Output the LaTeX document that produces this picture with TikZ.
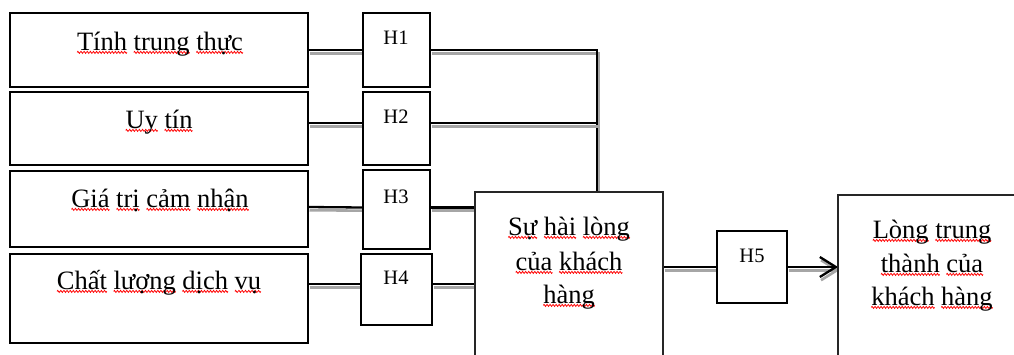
\documentclass[tikz,border=0pt]{standalone}
\usepackage{fontspec}
\setmainfont{Liberation Serif}
\usetikzlibrary{arrows.meta,backgrounds}
% one period of a red wavy underline, repeated under a word
\newsavebox\wavebox
\newsavebox\wordbox
\sbox\wavebox{\pgfpicture
  \pgfpathrectangle{\pgfpoint{0pt}{-1pt}}{\pgfpoint{3pt}{2pt}}%
  \pgfusepath{use as bounding box}%
  \pgfsetlinewidth{0.8pt}%
  \pgfsetstrokecolor{red}%
  \pgfpathmoveto{\pgfpoint{0pt}{0pt}}%
  \pgfpathsine{\pgfpoint{0.75pt}{1pt}}%
  \pgfpathcosine{\pgfpoint{0.75pt}{-1pt}}%
  \pgfpathsine{\pgfpoint{0.75pt}{-1pt}}%
  \pgfpathcosine{\pgfpoint{0.75pt}{1pt}}%
  \pgfusepath{stroke}%
\endpgfpicture}
\newcommand\spell[1]{\sbox\wordbox{#1}\rlap{\lower3.4pt\hbox to\wd\wordbox{\xleaders\copy\wavebox\hfill}}\usebox\wordbox}
\begin{document}
\begin{tikzpicture}[x=1pt,y=-1pt,
  box/.style={draw=black, line width=2.7pt, fill=white, inner sep=0pt, outer sep=0pt},
  bigbox/.style={box, line width=2.2pt, draw=black!85},
  txt/.style={inner sep=0pt, outer sep=0pt, anchor=base, font=\fontsize{26.5}{32}\selectfont},
  htxt/.style={inner sep=0pt, outer sep=0pt, anchor=base, font=\fontsize{20.5}{24}\selectfont},
  conn/.style={line width=2.3pt,
    preaction={draw=black!35, line width=2.6pt, transform canvas={shift={(1.5,3.2)}}}},
  tip/.style={-{Straight Barb[length=16pt,width=20pt]}}
]
\useasboundingbox (0,0) rectangle (1014,354);
\clip (0,0) rectangle (1014,354);

% factor boxes
\node[box, minimum width=298, minimum height=74] (f1) at (159,50) {};
\node[box, minimum width=298, minimum height=73] (f2) at (159,128.5) {};
\node[box, minimum width=298, minimum height=76] (f3) at (159,209) {};
\node[box, minimum width=298, minimum height=89] (f4) at (159,298.5) {};

% hypothesis boxes
\node[box, minimum width=67, minimum height=74] (h1) at (396.5,50) {};
\node[box, minimum width=67, minimum height=73] (h2) at (396.5,128.5) {};
\node[box, minimum width=67, minimum height=79] (h3) at (396.5,209.5) {};
\node[box, minimum width=71, minimum height=71] (h4) at (396.5,289.5) {};
\node[box, minimum width=70, minimum height=72] (h5) at (752,267) {};

% outcome boxes
\node[bigbox, minimum width=188, minimum height=188] (s) at (569,286) {};
\node[bigbox, minimum width=188, minimum height=185] (l) at (932,287.5) {};

% texts
\node[txt] (t1) at (160,50) {\spell{Tính} \spell{trung} \spell{thực}};
\node[txt] (t2) at (159,128) {\spell{Uy} \spell{tín}};
\node[txt] (t3) at (160,207) {\spell{Giá} \spell{trị} \spell{cảm} \spell{nhận}};
\node[txt] (t4) at (159,289) {\spell{Chất} \spell{lượng} \spell{dịch} \spell{vụ}};

\node[htxt] (a1) at (396,44) {H1};
\node[htxt] (a2) at (396,123) {H2};
\node[htxt] (a3) at (396,203) {H3};
\node[htxt] (a4) at (396,284) {H4};
\node[htxt] (a5) at (752,262) {H5};

\node[txt] (s1) at (569,235) {\spell{Sự} \spell{hài} \spell{lòng}};
\node[txt] (s2) at (569,270) {\spell{của} \spell{khách}};
\node[txt] (s3) at (569,303) {\spell{hàng}};

\node[txt] (l1) at (932,238) {\spell{Lòng} \spell{trung}};
\node[txt] (l2) at (932,272) {\spell{thành} \spell{của}};
\node[txt] (l3) at (932,305) {\spell{khách} \spell{hàng}};

% connectors
\coordinate (j) at (597,50);
\coordinate (c4) at ([yshift=5.5pt]h4.west);
\begin{scope}[on background layer]
\draw[conn] (f1.east) -- (h1.west);
\draw[conn] (h1.east) -- (h1.east -| j) -- (j |- s.north);
\draw[conn] ([yshift=5.5pt]f2.east) -- ([yshift=5.5pt]h2.west);
\draw[conn] ([yshift=5.5pt]h2.east) -- ([yshift=5.5pt]h2.east -| j);
\draw[conn] ([yshift=2pt]f3.east) -- ([yshift=2pt]h3.west);
\draw[conn] ([yshift=2pt]h3.east) -- ([yshift=2pt]h3.east -| s.west);
\draw[conn] (c4 -| f4.east) -- (c4);
\draw[conn] (c4 -| h4.east) -- (c4 -| s.west);
\draw[conn] (h5.west -| s.east) -- (h5.west);
\draw[conn, tip] (h5.east) -- (h5.east -| l.west);
\end{scope}
\end{tikzpicture}
\end{document}
